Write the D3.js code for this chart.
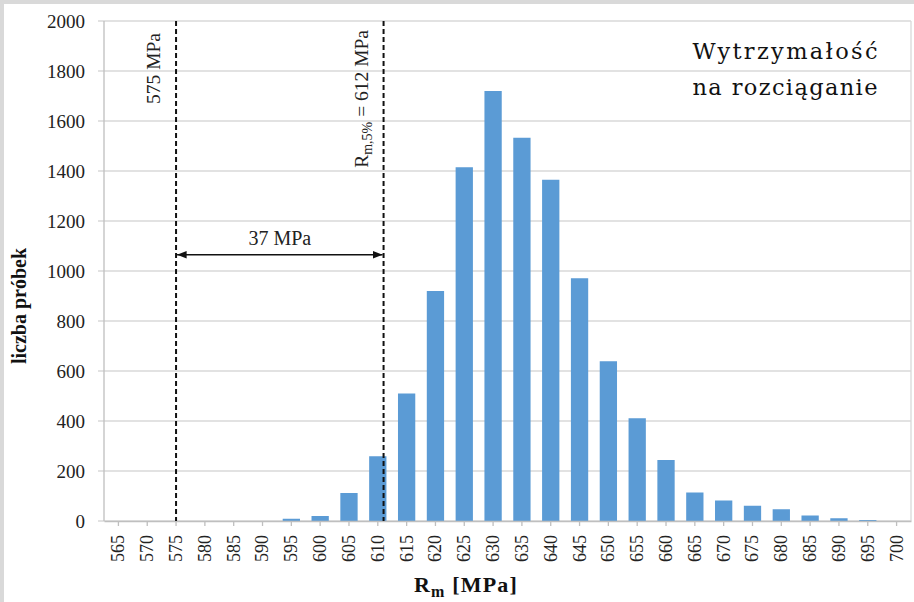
<!DOCTYPE html>
<html>
<head>
<meta charset="utf-8">
<script src="https://cdn.jsdelivr.net/npm/d3@7"></script>
<style>
body { margin: 0; background: #fff; }
svg { display: block; }
</style>
</head>
<body>
<div id="chart"></div>
<script>
// dane
var categories = [565, 570, 575, 580, 585, 590, 595, 600, 605, 610, 615, 620, 625, 630,
                  635, 640, 645, 650, 655, 660, 665, 670, 675, 680, 685, 690, 695, 700];
var counts = [0, 0, 0, 0, 0, 0, 9, 20, 112, 259, 510, 920, 1415, 1720,
              1533, 1365, 971, 639, 411, 244, 114, 82, 61, 47, 22, 11, 4, 0];
var yTicks = [0, 200, 400, 600, 800, 1000, 1200, 1400, 1600, 1800, 2000];
// pozycje linii przerywanych (tak jak narysowane)
var markerValues = [575, 611];
var titleLines = ["Wytrzymałość", "na rozciąganie"];

var W = 914, H = 602;
var margin = { top: 21, right: 3, bottom: 81, left: 104 };
var width = W - margin.left - margin.right;
var height = H - margin.top - margin.bottom;
var serif = "Liberation Serif";

var svg = d3.select("#chart").append("svg")
    .attr("width", W)
    .attr("height", H)
    .attr("font-family", serif);

// szara ramka (góra i lewo)
svg.append("rect").attr("x", 0).attr("y", 0).attr("width", W).attr("height", 4).attr("fill", "#d9d9d9");
svg.append("rect").attr("x", 0).attr("y", 0).attr("width", 4).attr("height", H).attr("fill", "#d9d9d9");

var g = svg.append("g").attr("transform", "translate(" + margin.left + "," + margin.top + ")");

var x = d3.scaleBand()
    .domain(categories)
    .range([0, width])
    .paddingInner(0.4)
    .paddingOuter(0.2);

var y = d3.scaleLinear()
    .domain([0, 2000])
    .range([height, 0]);

// os liniowa dla linii przerywanych
var xLin = d3.scaleLinear()
    .domain([categories[0], categories[categories.length - 1]])
    .range([x(categories[0]) + x.bandwidth() / 2, x(categories[categories.length - 1]) + x.bandwidth() / 2]);

// gridlines
g.append("g")
    .selectAll("line")
    .data(yTicks)
    .enter().append("line")
    .attr("x1", -6)
    .attr("x2", width)
    .attr("y1", d => y(d))
    .attr("y2", d => y(d))
    .attr("stroke", "#d9d9d9")
    .attr("stroke-width", 1.3);

// prawa krawedz obszaru wykresu
g.append("line")
    .attr("x1", width).attr("x2", width)
    .attr("y1", 0).attr("y2", height)
    .attr("stroke", "#d9d9d9").attr("stroke-width", 1.3);

// slupki
g.append("g")
    .selectAll("rect")
    .data(categories)
    .enter().append("rect")
    .attr("x", d => x(d))
    .attr("y", (d, i) => y(counts[i]))
    .attr("width", x.bandwidth())
    .attr("height", (d, i) => height - y(counts[i]))
    .attr("fill", "#5b9bd5");

// osie
var yAxis = g.append("g")
    .call(d3.axisLeft(y).tickValues(yTicks).tickFormat(d3.format("d")).tickSize(0).tickPadding(19))
    .attr("font-family", serif)
    .attr("font-size", 19);
yAxis.select(".domain").remove();
yAxis.selectAll("text").attr("fill", "#222");

g.append("line")
    .attr("x1", 0).attr("x2", 0).attr("y1", 0).attr("y2", height)
    .attr("stroke", "#bfbfbf").attr("stroke-width", 1.3);

var xAxis = g.append("g")
    .attr("transform", "translate(0," + height + ")")
    .call(d3.axisBottom(x).tickSizeInner(5).tickSizeOuter(0))
    .attr("font-family", serif)
    .attr("font-size", 18);
xAxis.select(".domain").attr("stroke", "#bfbfbf").attr("stroke-width", 1.3);
xAxis.selectAll(".tick line").attr("stroke", "#bfbfbf").attr("stroke-width", 1.3);
xAxis.selectAll("text")
    .attr("fill", "#222")
    .attr("transform", "rotate(-90)")
    .attr("x", -14)
    .attr("y", 0)
    .attr("dy", "0.33em")
    .style("text-anchor", "end");

// linie przerywane
g.append("g")
    .selectAll("line")
    .data(markerValues)
    .enter().append("line")
    .attr("x1", d => xLin(d))
    .attr("x2", d => xLin(d))
    .attr("y1", 0)
    .attr("y2", height)
    .attr("stroke", "#111")
    .attr("stroke-width", 2)
    .attr("stroke-dasharray", "5,3");

// etykieta 575 MPa
g.append("text")
    .attr("transform", "translate(" + (xLin(markerValues[0]) - 16) + ",12) rotate(-90)")
    .attr("text-anchor", "end")
    .attr("font-family", serif)
    .attr("font-size", 19.5)
    .attr("fill", "#222")
    .text("575 MPa");

// etykieta Rm,5% = 612 MPa
var rLabel = g.append("text")
    .attr("transform", "translate(" + (xLin(markerValues[1]) - 16) + ",9) rotate(-90)")
    .attr("text-anchor", "end")
    .attr("font-family", serif)
    .attr("font-size", 19.5)
    .attr("fill", "#222");
rLabel.append("tspan").text("R");
rLabel.append("tspan").attr("dy", 4).attr("font-size", 14).text("m,5%");
rLabel.append("tspan").attr("dy", -4).text(" = 612 MPa");

// strzalka 37 MPa
var defs = svg.append("defs");
["start", "end"].forEach(function(k) {
    defs.append("marker")
        .attr("id", "arrow-" + k)
        .attr("viewBox", "0 0 10 10")
        .attr("refX", k === "end" ? 10 : 0)
        .attr("refY", 5)
        .attr("markerWidth", 6)
        .attr("markerHeight", 6)
        .attr("markerUnits", "strokeWidth")
        .attr("orient", "auto")
        .append("path")
        .attr("d", k === "end" ? "M0,1 L10,5 L0,9 Z" : "M10,1 L0,5 L10,9 Z")
        .attr("fill", "#111");
});

var arrowY = y(1065);
g.append("line")
    .attr("x1", xLin(markerValues[0]) + 1)
    .attr("x2", xLin(markerValues[1]) - 1)
    .attr("y1", arrowY)
    .attr("y2", arrowY)
    .attr("stroke", "#111")
    .attr("stroke-width", 1.6)
    .attr("marker-start", "url(#arrow-start)")
    .attr("marker-end", "url(#arrow-end)");

g.append("text")
    .attr("x", (xLin(markerValues[0]) + xLin(markerValues[1])) / 2)
    .attr("y", arrowY - 10)
    .attr("text-anchor", "middle")
    .attr("font-family", serif)
    .attr("font-size", 20)
    .attr("fill", "#222")
    .text("37 MPa");

// tytuly osi
svg.append("text")
    .attr("transform", "translate(26," + (margin.top + height * 0.57) + ") rotate(-90)")
    .attr("text-anchor", "middle")
    .attr("font-family", serif)
    .attr("font-size", 20)
    .attr("font-weight", "bold")
    .attr("fill", "#111")
    .text("liczba próbek");

var xTitle = svg.append("text")
    .attr("x", 466)
    .attr("y", 592)
    .attr("text-anchor", "middle")
    .attr("font-family", serif)
    .attr("font-size", 22)
    .attr("font-weight", "bold")
    .attr("letter-spacing", 1.2)
    .attr("fill", "#111");
xTitle.append("tspan").text("R");
xTitle.append("tspan").attr("dy", 5).attr("font-size", 16).text("m");
xTitle.append("tspan").attr("dy", -5).text(" [MPa]");

// napis w prawym gornym rogu
svg.append("g")
    .selectAll("text")
    .data(titleLines)
    .enter().append("text")
    .attr("x", 785)
    .attr("y", (d, i) => 59 + i * 36)
    .attr("text-anchor", "middle")
    .attr("font-family", "DejaVu Serif")
    .attr("font-size", 22.5)
    .attr("textLength", 185)
    .attr("lengthAdjust", "spacing")
    .attr("fill", "#111")
    .text(d => d);
</script>
</body>
</html>
